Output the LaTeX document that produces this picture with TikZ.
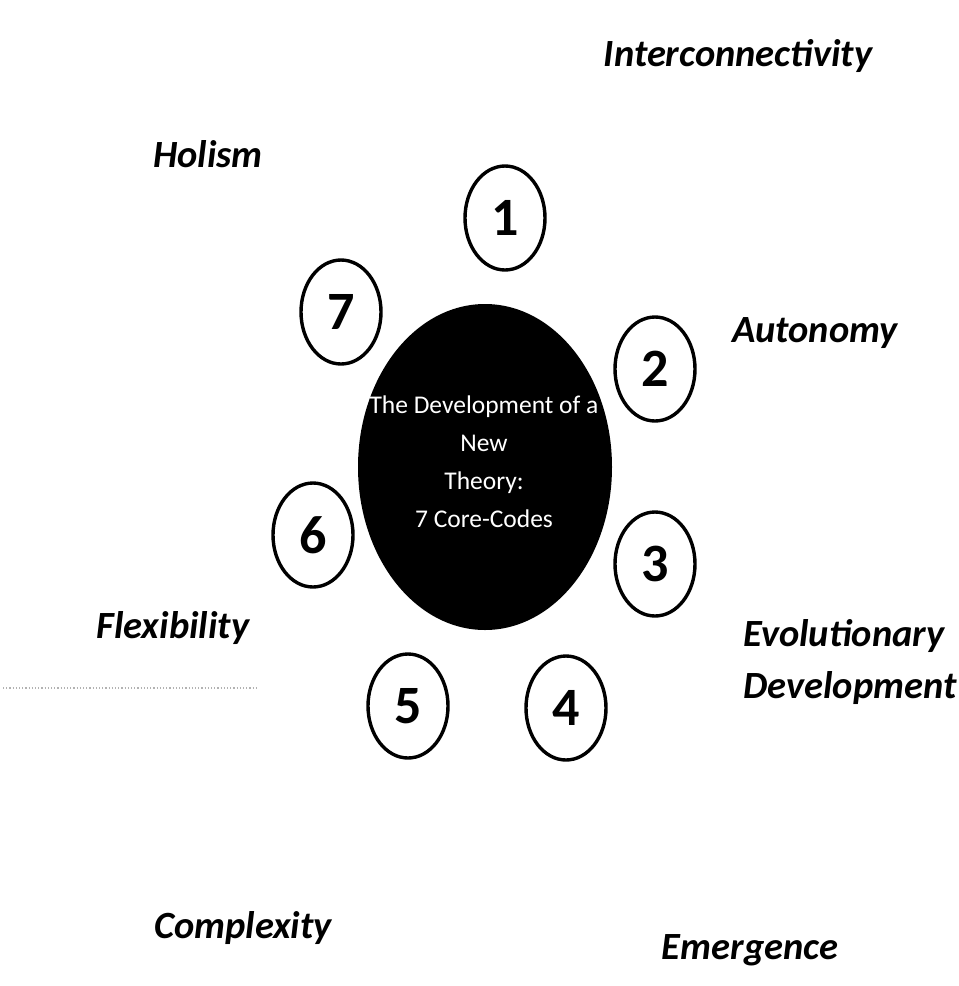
\documentclass[tikz,border=0pt]{standalone}
\usepackage{fontspec}
\setmainfont{Carlito}
\usetikzlibrary{shapes.geometric}
\begin{document}
\begin{tikzpicture}[x=1pt,y=-1pt,
  numcirc/.style={draw=black,line width=3.4pt,ellipse,minimum width=80pt,minimum height=104pt,inner sep=0pt,font=\fontsize{54}{54}\selectfont\bfseries},
  lbl/.style={font=\fontsize{38.5}{52}\selectfont\bfseries\itshape,inner sep=0pt}]
\useasboundingbox (0,0) rectangle (959,986);
\fill[white] (0,0) rectangle (959,986);
% centre
\node[ellipse,fill=black,minimum width=254pt,minimum height=326pt,inner sep=0pt] (core) at (485,467) {};
\node[text=white,align=center,font=\fontsize{25.5}{38}\selectfont] (coretxt) at (484,462) {The Development of a\\New\\Theory:\\7 Core-Codes};
% numbered circles
\node[numcirc] (c1) at (505,218) {1};
\node[numcirc] (c2) at (655,369) {2};
\node[numcirc] (c3) at (655,564) {3};
\node[numcirc] (c4) at (566,708) {4};
\node[numcirc] (c5) at (408,706) {5};
\node[numcirc] (c6) at (313,535) {6};
\node[numcirc] (c7) at (341,312) {7};
% labels
\node[lbl] (l1) at (738,56) {Interconnectivity};
\node[lbl] (l7) at (208,154) {Holism};
\node[lbl] (l2) at (815,333) {Autonomy};
\node[lbl,align=left] (l3) at (850,662) {Evolutionary\\Development};
\node[lbl] (l6) at (173,628) {Flexibility};
\node[lbl] (l5) at (243,928) {Complexity};
\node[lbl] (l4) at (750,950) {Emergence};
% faint dotted artefact line
\coordinate (da) at (3,688);
\coordinate (db) at (257,688);
\draw[gray!60,line width=1.2pt,dotted] (da) -- (db);
\end{tikzpicture}
\end{document}
